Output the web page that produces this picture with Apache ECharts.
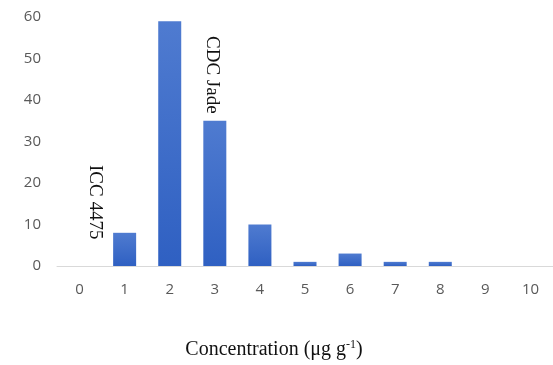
<!DOCTYPE html>
<html>
<head>
<meta charset="utf-8">
<script src="https://cdn.jsdelivr.net/npm/echarts@6/dist/echarts.min.js"></script>
<style>
  html, body { margin: 0; padding: 0; background: #fff; }
  #chart { width: 553px; height: 365px; }
</style>
</head>
<body>
<div id="chart"></div>
<script>
const categories = ['0', '1', '2', '3', '4', '5', '6', '7', '8', '9', '10'];
const counts = [0, 8, 59, 35, 10, 1, 3, 1, 1, 0, 0];
const yTicks = [0, 10, 20, 30, 40, 50, 60];

const chart = echarts.init(document.getElementById('chart'));

const option = {
  animation: false,
  grid: { left: 57, right: 0, top: 17, bottom: 99, outerBoundsMode: 'none' },
  xAxis: {
    type: 'category',
    data: categories,
    axisLine: { lineStyle: { color: '#d9d9d9', width: 1 } },
    axisTick: { show: false },
    axisLabel: { color: '#595959', fontSize: 15, fontFamily: 'Open Sans', margin: 16 }
  },
  yAxis: {
    type: 'value',
    min: yTicks[0],
    max: yTicks[yTicks.length - 1],
    interval: 10,
    axisLine: { show: false },
    axisTick: { show: false },
    splitLine: { show: false },
    axisLabel: { color: '#595959', fontSize: 15, fontFamily: 'Open Sans', margin: 16 }
  },
  series: [
    {
      type: 'bar',
      data: counts,
      barWidth: 23,
      itemStyle: {
        color: new echarts.graphic.LinearGradient(0, 0, 0, 1, [
          { offset: 0, color: '#4f7bd0' },
          { offset: 1, color: '#2f60c2' }
        ])
      }
    }
  ],
  graphic: [
    {
      type: 'text',
      x: 274, y: 350,
      style: {
        text: '{a|Concentration (μg g}{s|-1}{a|)}',
        textAlign: 'center',
        textVerticalAlign: 'middle',
        rich: {
          a: { fontFamily: 'Liberation Serif', fontSize: 20, fill: '#111' },
          s: { fontFamily: 'Liberation Serif', fontSize: 12, fill: '#111', verticalAlign: 'top', padding: [0, 0, 10, 0] }
        }
      }
    },
    {
      type: 'text',
      x: 95, y: 165,
      rotation: -Math.PI / 2,
      style: {
        text: 'ICC 4475',
        font: '19px "Liberation Serif"',
        fill: '#111',
        textAlign: 'left',
        textVerticalAlign: 'middle'
      }
    },
    {
      type: 'text',
      x: 212, y: 36,
      rotation: -Math.PI / 2,
      style: {
        text: 'CDC Jade',
        font: '19px "Liberation Serif"',
        fill: '#111',
        textAlign: 'left',
        textVerticalAlign: 'middle'
      }
    }
  ]
};

chart.setOption(option);
</script>
</body>
</html>
